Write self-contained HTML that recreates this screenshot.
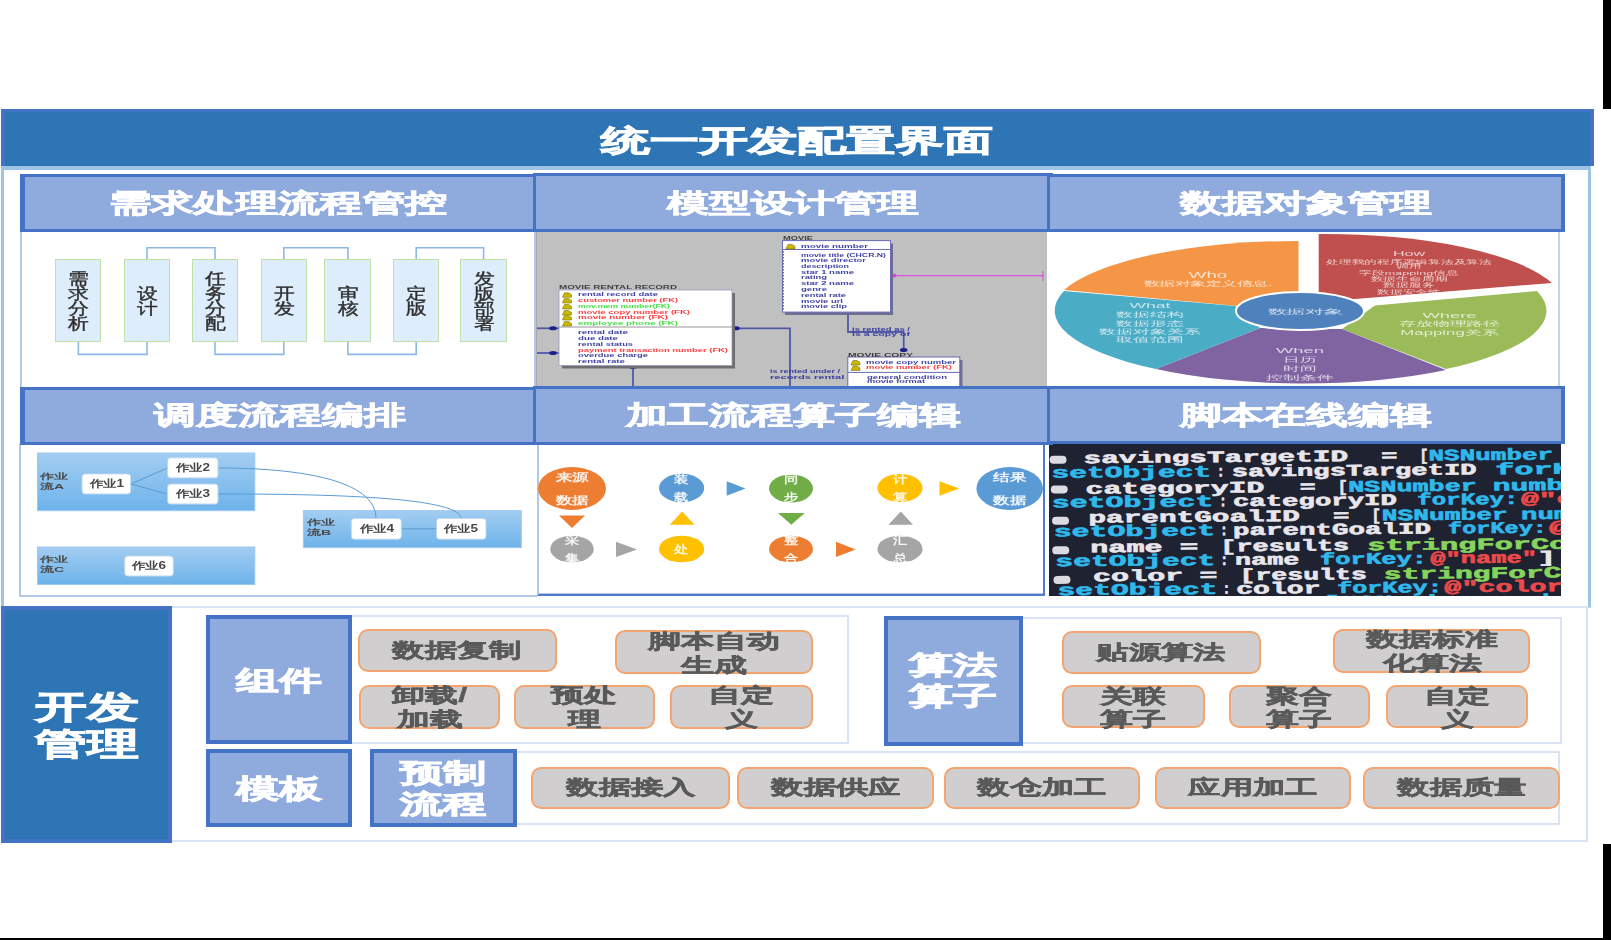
<!DOCTYPE html>
<html><head><meta charset="utf-8">
<style>
html,body{margin:0;padding:0;background:#fff;}
body{width:1611px;height:940px;position:relative;overflow:hidden;font-family:"Liberation Sans",sans-serif;}
.a{position:absolute;box-sizing:border-box;}
.t{z-index:11;position:absolute;display:flex;align-items:center;justify-content:center;white-space:nowrap;line-height:1;}
.t>span{display:inline-block;transform-origin:center center;}
.sh{z-index:10;position:absolute;box-sizing:border-box;background:#8FAADC;border:3px solid #4472C4;}
.btn{position:absolute;box-sizing:border-box;background:#D0CECE;border:2px solid #F4A46E;border-radius:10px;}
.vb{position:absolute;box-sizing:border-box;background:#DDEDFB;border:1.5px solid #C0E0A8;}
</style></head><body>

<!-- black bars -->
<div class="a" style="left:1603px;top:0;width:8px;height:109px;background:#000"></div>
<div class="a" style="left:1603px;top:844px;width:8px;height:96px;background:#000"></div>
<div class="a" style="left:0;top:938px;width:1611px;height:2px;background:#000"></div>

<!-- header -->
<div class="a" style="left:1px;top:109px;width:1593px;height:57px;background:#2E75B6;border:4px solid #4472C4;border-top-width:3px;border-bottom:none"></div>
<div class="t" style="left:1px;top:112px;width:1592px;height:57px;color:#fff;font-weight:bold;font-size:30px;-webkit-text-stroke:0.9px #fff"><span style="transform:scaleX(1.632)">统一开发配置界面</span></div>

<!-- outer frame top section -->
<div class="a" style="left:1px;top:166px;width:1590px;height:442px;border:3px solid #9DC3E6;border-top:4px solid #9DC3E6;border-bottom:2px solid #CBDAF0"></div>

<!-- row1 subheaders -->
<div class="sh" style="left:20px;top:174px;width:519px;height:58px;border-left-width:5px"></div>
<div class="sh" style="left:533px;top:173px;width:520px;height:59px"></div>
<div class="sh" style="left:1047px;top:174px;width:518px;height:58px;border-right-width:4px"></div>
<div class="t" style="left:18px;top:174px;width:519px;height:58px;color:#fff;font-weight:bold;font-size:26px;-webkit-text-stroke:0.6px #fff"><span style="transform:scaleX(1.627)">需求处理流程管控</span></div>
<div class="t" style="left:533px;top:173px;width:520px;height:59px;color:#fff;font-weight:bold;font-size:26px;-webkit-text-stroke:0.6px #fff"><span style="transform:scaleX(1.61)">模型设计管理</span></div>
<div class="t" style="left:1047px;top:174px;width:518px;height:58px;color:#fff;font-weight:bold;font-size:26px;-webkit-text-stroke:0.6px #fff"><span style="transform:scaleX(1.61)">数据对象管理</span></div>

<!-- row2 subheaders -->
<div class="sh" style="left:20px;top:387px;width:519px;height:58px;border-left-width:5px"></div>
<div class="sh" style="left:533px;top:386px;width:520px;height:59px"></div>
<div class="sh" style="left:1047px;top:386px;width:518px;height:58px;border-right-width:4px"></div>
<div class="t" style="left:20px;top:386px;width:519px;height:58px;color:#fff;font-weight:bold;font-size:26px;-webkit-text-stroke:0.6px #fff"><span style="transform:scaleX(1.61)">调度流程编排</span></div>
<div class="t" style="left:533px;top:385px;width:520px;height:59px;color:#fff;font-weight:bold;font-size:26px;-webkit-text-stroke:0.6px #fff"><span style="transform:scaleX(1.61)">加工流程算子编辑</span></div>
<div class="t" style="left:1047px;top:386px;width:518px;height:58px;color:#fff;font-weight:bold;font-size:26px;-webkit-text-stroke:0.6px #fff"><span style="transform:scaleX(1.61)">脚本在线编辑</span></div>

<!-- CONTENT -->
<div class="a" style="left:20px;top:232px;width:516px;height:155px;border-left:2px solid #B4C9EC;border-right:2px solid #B4C9EC"></div>
<div class="a" style="left:1558px;top:232px;width:2px;height:155px;background:#C5D3EE"></div>
<svg class="a" style="left:0;top:0" width="600" height="400" viewBox="0 0 600 400">
<path d="M147.0,259 V247.8 H215.0 V259" fill="none" stroke="#8DB8E8" stroke-width="1.6"/>
<path d="M283.8,259 V247.8 H347.9 V259" fill="none" stroke="#8DB8E8" stroke-width="1.6"/>
<path d="M416.2,259 V247.8 H483.6 V259" fill="none" stroke="#8DB8E8" stroke-width="1.6"/>
<path d="M78.4,342 V354.4 H147.0 V342" fill="none" stroke="#8DB8E8" stroke-width="1.6"/>
<path d="M215.0,342 V354.4 H283.8 V342" fill="none" stroke="#8DB8E8" stroke-width="1.6"/>
<path d="M347.9,342 V354.4 H416.2 V342" fill="none" stroke="#8DB8E8" stroke-width="1.6"/>
</svg>
<div class="vb" style="left:55px;top:259px;width:46px;height:83px"></div>
<div class="t" style="left:55px;top:259px;width:46px;height:83px;color:#2e2e2e;font-size:16px;-webkit-text-stroke:0.35px #2e2e2e;white-space:normal;text-align:center"><span style="transform:scale(1.3,1);line-height:15px">需<br>求<br>分<br>析</span></div>
<div class="vb" style="left:124px;top:259px;width:46px;height:83px"></div>
<div class="t" style="left:124px;top:259px;width:46px;height:83px;color:#2e2e2e;font-size:16px;-webkit-text-stroke:0.35px #2e2e2e;white-space:normal;text-align:center"><span style="transform:scale(1.3,1);line-height:15px">设<br>计</span></div>
<div class="vb" style="left:192px;top:259px;width:46px;height:83px"></div>
<div class="t" style="left:192px;top:259px;width:46px;height:83px;color:#2e2e2e;font-size:16px;-webkit-text-stroke:0.35px #2e2e2e;white-space:normal;text-align:center"><span style="transform:scale(1.3,1);line-height:15px">任<br>务<br>分<br>配</span></div>
<div class="vb" style="left:261px;top:259px;width:46px;height:83px"></div>
<div class="t" style="left:261px;top:259px;width:46px;height:83px;color:#2e2e2e;font-size:16px;-webkit-text-stroke:0.35px #2e2e2e;white-space:normal;text-align:center"><span style="transform:scale(1.3,1);line-height:15px">开<br>发</span></div>
<div class="vb" style="left:324px;top:259px;width:47px;height:83px"></div>
<div class="t" style="left:324px;top:259px;width:47px;height:83px;color:#2e2e2e;font-size:16px;-webkit-text-stroke:0.35px #2e2e2e;white-space:normal;text-align:center"><span style="transform:scale(1.3,1);line-height:15px">审<br>核</span></div>
<div class="vb" style="left:393px;top:259px;width:46px;height:83px"></div>
<div class="t" style="left:393px;top:259px;width:46px;height:83px;color:#2e2e2e;font-size:16px;-webkit-text-stroke:0.35px #2e2e2e;white-space:normal;text-align:center"><span style="transform:scale(1.3,1);line-height:15px">定<br>版</span></div>
<div class="vb" style="left:460px;top:259px;width:47px;height:83px"></div>
<div class="t" style="left:460px;top:259px;width:47px;height:83px;color:#2e2e2e;font-size:16px;-webkit-text-stroke:0.35px #2e2e2e;white-space:normal;text-align:center"><span style="transform:scale(1.3,1);line-height:15px">发<br>版<br>部<br>署</span></div>
<div class="a" style="left:536px;top:232px;width:511px;height:154px;background:#C0C0C0;border-left:1px solid #a8a8a8"></div>
<svg class="a" style="left:0;top:0" width="1100" height="400" viewBox="0 0 1100 400"><defs><filter id="bl" x="-5%" y="-50%" width="110%" height="200%"><feGaussianBlur stdDeviation="0.45"/></filter></defs>
<g fill="none" stroke="#5257A8" stroke-width="1.8">
<path d="M537,328.3 H559"/><path d="M537,353 H559"/><path d="M732,328.3 H790 V386"/><path d="M633,365 V386"/><path d="M848,312 V332 H903.7 V351"/>
</g>
<path d="M890,275.6 H1044" stroke="#E050E0" stroke-width="1.3"/><path d="M1043,271 V281" stroke="#E050E0" stroke-width="1"/>
<ellipse cx="893" cy="275.6" rx="3.5" ry="2" fill="#E040E0"/>
<ellipse cx="553" cy="328.3" rx="3.8" ry="2" fill="#1A1F8A"/>
<ellipse cx="553" cy="353" rx="3.8" ry="2" fill="#1A1F8A"/>
<ellipse cx="736" cy="328.3" rx="3.8" ry="2" fill="#1A1F8A"/>
<ellipse cx="633" cy="367" rx="3.8" ry="2" fill="#1A1F8A"/>
<ellipse cx="903.7" cy="350" rx="3.8" ry="2" fill="#1A1F8A"/>
<rect x="562" y="293" width="173" height="75.5" fill="#6e6e6e"/>
<rect x="559" y="290" width="173" height="75.5" fill="#fff" stroke="#9a9ac0" stroke-width="0.8"/>
<line x1="559" y1="327" x2="732" y2="327" stroke="#8a8a8a" stroke-width="0.9"/>
<text x="559" y="288.6" font-family="Liberation Sans, sans-serif" font-size="5.5" font-weight="bold" filter="url(#bl)" fill="#333" opacity="0.9" textLength="118" lengthAdjust="spacingAndGlyphs">MOVIE RENTAL RECORD</text>
<path d="M562.5,296.8 l2,-4 h4 l3,2 v2.5 h-9z" fill="#C9B800" stroke="#6b6000" stroke-width="0.5"/>
<text x="578" y="296.3" font-family="Liberation Sans, sans-serif" font-size="5.6" font-weight="bold" filter="url(#bl)" fill="#2A2F9A" opacity="0.9" textLength="80" lengthAdjust="spacingAndGlyphs">rental record date</text>
<path d="M562.5,302.5 l2,-4 h4 l3,2 v2.5 h-9z" fill="#C9B800" stroke="#6b6000" stroke-width="0.5"/>
<text x="578" y="302.0" font-family="Liberation Sans, sans-serif" font-size="5.6" font-weight="bold" filter="url(#bl)" fill="#FF2A2A" opacity="0.9" textLength="100" lengthAdjust="spacingAndGlyphs">customer number (FK)</text>
<path d="M562.5,308.5 l2,-4 h4 l3,2 v2.5 h-9z" fill="#C9B800" stroke="#6b6000" stroke-width="0.5"/>
<text x="578" y="308.0" font-family="Liberation Sans, sans-serif" font-size="5.6" font-weight="bold" filter="url(#bl)" fill="#30DD30" opacity="0.9" textLength="92" lengthAdjust="spacingAndGlyphs">mov.mem number(FK)</text>
<path d="M562.5,314.5 l2,-4 h4 l3,2 v2.5 h-9z" fill="#C9B800" stroke="#6b6000" stroke-width="0.5"/>
<text x="578" y="314.0" font-family="Liberation Sans, sans-serif" font-size="5.6" font-weight="bold" filter="url(#bl)" fill="#FF2A2A" opacity="0.9" textLength="112" lengthAdjust="spacingAndGlyphs">movie copy number (FK)</text>
<path d="M562.5,319.5 l2,-4 h4 l3,2 v2.5 h-9z" fill="#C9B800" stroke="#6b6000" stroke-width="0.5"/>
<text x="578" y="319.0" font-family="Liberation Sans, sans-serif" font-size="5.6" font-weight="bold" filter="url(#bl)" fill="#FF2A2A" opacity="0.9" textLength="90" lengthAdjust="spacingAndGlyphs">movie number (FK)</text>
<path d="M562.5,325.5 l2,-4 h4 l3,2 v2.5 h-9z" fill="#C9B800" stroke="#6b6000" stroke-width="0.5"/>
<text x="578" y="325.0" font-family="Liberation Sans, sans-serif" font-size="5.6" font-weight="bold" filter="url(#bl)" fill="#30DD30" opacity="0.9" textLength="100" lengthAdjust="spacingAndGlyphs">employee phone (FK)</text>
<text x="578" y="333.6" font-family="Liberation Sans, sans-serif" font-size="5.6" font-weight="bold" filter="url(#bl)" fill="#2A2F9A" opacity="0.9" textLength="50" lengthAdjust="spacingAndGlyphs">rental date</text>
<text x="578" y="339.7" font-family="Liberation Sans, sans-serif" font-size="5.6" font-weight="bold" filter="url(#bl)" fill="#2A2F9A" opacity="0.9" textLength="40" lengthAdjust="spacingAndGlyphs">due date</text>
<text x="578" y="345.7" font-family="Liberation Sans, sans-serif" font-size="5.6" font-weight="bold" filter="url(#bl)" fill="#2A2F9A" opacity="0.9" textLength="55" lengthAdjust="spacingAndGlyphs">rental status</text>
<text x="578" y="351.6" font-family="Liberation Sans, sans-serif" font-size="5.6" font-weight="bold" filter="url(#bl)" fill="#FF2A2A" opacity="0.9" textLength="150" lengthAdjust="spacingAndGlyphs">payment transaction number (FK)</text>
<text x="578" y="356.9" font-family="Liberation Sans, sans-serif" font-size="5.6" font-weight="bold" filter="url(#bl)" fill="#2A2F9A" opacity="0.9" textLength="70" lengthAdjust="spacingAndGlyphs">overdue charge</text>
<text x="578" y="362.6" font-family="Liberation Sans, sans-serif" font-size="5.6" font-weight="bold" filter="url(#bl)" fill="#2A2F9A" opacity="0.9" textLength="47" lengthAdjust="spacingAndGlyphs">rental rate</text>
<rect x="785" y="243.5" width="108" height="71.5" fill="#6e6e8e"/>
<rect x="782.5" y="240.6" width="108" height="71.5" fill="#fff" stroke="#6a6ab8" stroke-width="1"/>
<line x1="782.5" y1="249.5" x2="890.5" y2="249.5" stroke="#6a6ab8" stroke-width="1"/>
<text x="783" y="239.7" font-family="Liberation Sans, sans-serif" font-size="5.2" font-weight="bold" filter="url(#bl)" fill="#333" opacity="0.9" textLength="30" lengthAdjust="spacingAndGlyphs">MOVIE</text>
<path d="M786,248.4 l2,-4 h4 l3,2 v2.5 h-9z" fill="#C9B800" stroke="#6b6000" stroke-width="0.5"/>
<text x="801" y="247.9" font-family="Liberation Sans, sans-serif" font-size="5.6" font-weight="bold" filter="url(#bl)" fill="#2A2F9A" opacity="0.9" textLength="67" lengthAdjust="spacingAndGlyphs">movie number</text>
<text x="801" y="256.5" font-family="Liberation Sans, sans-serif" font-size="5.6" font-weight="bold" filter="url(#bl)" fill="#2A2F9A" opacity="0.9" textLength="85" lengthAdjust="spacingAndGlyphs">movie title (CHCR.N)</text>
<text x="801" y="262.0" font-family="Liberation Sans, sans-serif" font-size="5.6" font-weight="bold" filter="url(#bl)" fill="#2A2F9A" opacity="0.9" textLength="65" lengthAdjust="spacingAndGlyphs">movie director</text>
<text x="801" y="268.2" font-family="Liberation Sans, sans-serif" font-size="5.6" font-weight="bold" filter="url(#bl)" fill="#2A2F9A" opacity="0.9" textLength="48" lengthAdjust="spacingAndGlyphs">description</text>
<text x="801" y="274.0" font-family="Liberation Sans, sans-serif" font-size="5.6" font-weight="bold" filter="url(#bl)" fill="#2A2F9A" opacity="0.9" textLength="53" lengthAdjust="spacingAndGlyphs">star 1 name</text>
<text x="801" y="279.4" font-family="Liberation Sans, sans-serif" font-size="5.6" font-weight="bold" filter="url(#bl)" fill="#2A2F9A" opacity="0.9" textLength="26" lengthAdjust="spacingAndGlyphs">rating</text>
<text x="801" y="285.3" font-family="Liberation Sans, sans-serif" font-size="5.6" font-weight="bold" filter="url(#bl)" fill="#2A2F9A" opacity="0.9" textLength="53" lengthAdjust="spacingAndGlyphs">star 2 name</text>
<text x="801" y="291.2" font-family="Liberation Sans, sans-serif" font-size="5.6" font-weight="bold" filter="url(#bl)" fill="#2A2F9A" opacity="0.9" textLength="26" lengthAdjust="spacingAndGlyphs">genre</text>
<text x="801" y="297.0" font-family="Liberation Sans, sans-serif" font-size="5.6" font-weight="bold" filter="url(#bl)" fill="#2A2F9A" opacity="0.9" textLength="45" lengthAdjust="spacingAndGlyphs">rental rate</text>
<text x="801" y="302.8" font-family="Liberation Sans, sans-serif" font-size="5.6" font-weight="bold" filter="url(#bl)" fill="#2A2F9A" opacity="0.9" textLength="42" lengthAdjust="spacingAndGlyphs">movie url</text>
<text x="801" y="308.3" font-family="Liberation Sans, sans-serif" font-size="5.6" font-weight="bold" filter="url(#bl)" fill="#2A2F9A" opacity="0.9" textLength="46" lengthAdjust="spacingAndGlyphs">movie clip</text>
<line x1="783.5" y1="251" x2="783.5" y2="311" stroke="#6a6ab8" stroke-width="1" stroke-dasharray="1.5,1.5"/>
<text x="852" y="330.6" font-family="Liberation Sans, sans-serif" font-size="5.2" font-weight="bold" filter="url(#bl)" fill="#2A2F9A" opacity="0.9" textLength="58" lengthAdjust="spacingAndGlyphs">is rented as /</text>
<text x="852" y="335.9" font-family="Liberation Sans, sans-serif" font-size="5.2" font-weight="bold" filter="url(#bl)" fill="#2A2F9A" opacity="0.9" textLength="58" lengthAdjust="spacingAndGlyphs">is a copy of</text>
<text x="770" y="372.9" font-family="Liberation Sans, sans-serif" font-size="5.2" font-weight="bold" filter="url(#bl)" fill="#2A2F9A" opacity="0.9" textLength="70" lengthAdjust="spacingAndGlyphs">is rented under /</text>
<text x="770" y="378.5" font-family="Liberation Sans, sans-serif" font-size="5.2" font-weight="bold" filter="url(#bl)" fill="#2A2F9A" opacity="0.9" textLength="88" lengthAdjust="spacingAndGlyphs">records rental of</text>
<rect x="850.5" y="360" width="112" height="30" fill="#6e6e8e"/>
<rect x="847.8" y="357" width="112" height="30" fill="#fff" stroke="#6a6ab8" stroke-width="1"/>
<line x1="847.8" y1="372.4" x2="959.8" y2="372.4" stroke="#6a6ab8" stroke-width="1"/>
<text x="848" y="356.5" font-family="Liberation Sans, sans-serif" font-size="5.2" font-weight="bold" filter="url(#bl)" fill="#333" opacity="0.9" textLength="65" lengthAdjust="spacingAndGlyphs">MOVIE COPY</text>
<path d="M851,364.5 l2,-4 h4 l3,2 v2.5 h-9z" fill="#C9B800" stroke="#6b6000" stroke-width="0.5"/>
<path d="M851,369.9 l2,-4 h4 l3,2 v2.5 h-9z" fill="#C9B800" stroke="#6b6000" stroke-width="0.5"/>
<text x="866" y="364.0" font-family="Liberation Sans, sans-serif" font-size="5.6" font-weight="bold" filter="url(#bl)" fill="#2A2F9A" opacity="0.9" textLength="90" lengthAdjust="spacingAndGlyphs">movie copy number</text>
<text x="866" y="369.4" font-family="Liberation Sans, sans-serif" font-size="5.6" font-weight="bold" filter="url(#bl)" fill="#FF2A2A" opacity="0.9" textLength="86" lengthAdjust="spacingAndGlyphs">movie number (FK)</text>
<text x="867" y="378.6" font-family="Liberation Sans, sans-serif" font-size="5.6" font-weight="bold" filter="url(#bl)" fill="#2A2F9A" opacity="0.9" textLength="80" lengthAdjust="spacingAndGlyphs">general condition</text>
<text x="867" y="383.4" font-family="Liberation Sans, sans-serif" font-size="5.6" font-weight="bold" filter="url(#bl)" fill="#2A2F9A" opacity="0.9" textLength="58" lengthAdjust="spacingAndGlyphs">movie format</text>
</svg>
<svg class="a" style="left:0;top:0" width="1611" height="400" viewBox="0 0 1611 400">
<path d="M1298.5,241 A245,72 0 0,0 1064,290 L1237,306 L1298.5,300 Z" fill="#F59646"/>
<path d="M1318.7,234 A240,72 0 0,1 1552,283 L1318.7,302 Z" fill="#C0504D"/>
<path d="M1537,291 A245,72 0 0,1 1446,369 L1342,329 L1375,305.6 Z" fill="#9BBB59"/>
<path d="M1446,370 A245,72 0 0,1 1156,369 L1260,328 L1342,329 Z" fill="#8064A2"/>
<path d="M1156,369 A245,72 0 0,1 1064,291 L1235,306 L1260,328 Z" fill="#4BACC6"/>
<ellipse cx="1300" cy="311" rx="64" ry="19" fill="#4F81BD" stroke="#fff" stroke-width="2"/>
<text x="0" y="0" font-family="Liberation Sans, sans-serif" fill="#fff" text-anchor="middle" font-size="8.5" opacity="0.72" transform="translate(1208,278.0) scale(2.2,1)">Who</text>
<text x="0" y="0" font-family="Liberation Sans, sans-serif" fill="#fff" text-anchor="middle" font-size="7" opacity="0.72" transform="translate(1208,285.6) scale(2.29,1)">数据对象定义信息.</text>
<text x="0" y="0" font-family="Liberation Sans, sans-serif" fill="#fff" text-anchor="middle" font-size="7" opacity="0.72" transform="translate(1409,256.2) scale(2.3,1)">How</text>
<text x="0" y="0" font-family="Liberation Sans, sans-serif" fill="#fff" text-anchor="middle" font-size="6" opacity="0.72" transform="translate(1409,263.6) scale(2.1,1)">处理我的程序逻辑算法及算法</text>
<text x="0" y="0" font-family="Liberation Sans, sans-serif" fill="#fff" text-anchor="middle" font-size="6" opacity="0.72" transform="translate(1409,268.3) scale(2.1,1)">调用</text>
<text x="0" y="0" font-family="Liberation Sans, sans-serif" fill="#fff" text-anchor="middle" font-size="6" opacity="0.72" transform="translate(1409,274.5) scale(2.1,1)">字段mapping信息</text>
<text x="0" y="0" font-family="Liberation Sans, sans-serif" fill="#fff" text-anchor="middle" font-size="6" opacity="0.72" transform="translate(1409,280.6) scale(2.1,1)">数据生命周期</text>
<text x="0" y="0" font-family="Liberation Sans, sans-serif" fill="#fff" text-anchor="middle" font-size="6" opacity="0.72" transform="translate(1409,287.3) scale(2.1,1)">数据服务</text>
<text x="0" y="0" font-family="Liberation Sans, sans-serif" fill="#fff" text-anchor="middle" font-size="6" opacity="0.72" transform="translate(1409,293.5) scale(2.1,1)">数据安全性</text>
<text x="0" y="0" font-family="Liberation Sans, sans-serif" fill="#fff" text-anchor="middle" font-size="7" opacity="0.72" transform="translate(1150,308.2) scale(2.51,1)">What</text>
<text x="0" y="0" font-family="Liberation Sans, sans-serif" fill="#fff" text-anchor="middle" font-size="7" opacity="0.72" transform="translate(1150,317.2) scale(2.40,1)">数据结构</text>
<text x="0" y="0" font-family="Liberation Sans, sans-serif" fill="#fff" text-anchor="middle" font-size="7" opacity="0.72" transform="translate(1150,325.6) scale(2.40,1)">数据形态</text>
<text x="0" y="0" font-family="Liberation Sans, sans-serif" fill="#fff" text-anchor="middle" font-size="7" opacity="0.72" transform="translate(1150,333.7) scale(2.40,1)">数据对象关系</text>
<text x="0" y="0" font-family="Liberation Sans, sans-serif" fill="#fff" text-anchor="middle" font-size="7" opacity="0.72" transform="translate(1150,342.1) scale(2.40,1)">取值范围</text>
<text x="0" y="0" font-family="Liberation Sans, sans-serif" fill="#fff" text-anchor="middle" font-size="7" opacity="0.72" transform="translate(1305,314.3) scale(2.74,1)">数据对象</text>
<text x="0" y="0" font-family="Liberation Sans, sans-serif" fill="#fff" text-anchor="middle" font-size="7" opacity="0.72" transform="translate(1449.5,317.6) scale(2.63,1)">Where</text>
<text x="0" y="0" font-family="Liberation Sans, sans-serif" fill="#fff" text-anchor="middle" font-size="7" opacity="0.72" transform="translate(1449.5,326.4) scale(2.40,1)">存放物理路径</text>
<text x="0" y="0" font-family="Liberation Sans, sans-serif" fill="#fff" text-anchor="middle" font-size="7" opacity="0.72" transform="translate(1449.5,335.1) scale(2.40,1)">Mapping关系</text>
<text x="0" y="0" font-family="Liberation Sans, sans-serif" fill="#fff" text-anchor="middle" font-size="7" opacity="0.72" transform="translate(1300,353.4) scale(2.63,1)">When</text>
<text x="0" y="0" font-family="Liberation Sans, sans-serif" fill="#fff" text-anchor="middle" font-size="7" opacity="0.72" transform="translate(1300,362.1) scale(2.40,1)">日历</text>
<text x="0" y="0" font-family="Liberation Sans, sans-serif" fill="#fff" text-anchor="middle" font-size="7" opacity="0.72" transform="translate(1300,370.6) scale(2.40,1)">时间</text>
<text x="0" y="0" font-family="Liberation Sans, sans-serif" fill="#fff" text-anchor="middle" font-size="7" opacity="0.72" transform="translate(1300,379.5) scale(2.40,1)">控制条件</text>
</svg>
<div class="a" style="left:19px;top:444px;width:518px;height:153px;border-left:2px solid #B4C7E7;border-bottom:2px solid #B4C7E7"></div>
<svg class="a" style="left:0;top:0" width="600" height="620" viewBox="0 0 600 620">
<defs><linearGradient id="gb" x1="0" y1="0" x2="0" y2="1"><stop offset="0" stop-color="#A3CDF2"/><stop offset="1" stop-color="#6DB3EA"/></linearGradient></defs>
<rect x="37.5" y="453" width="217.3" height="57.7" fill="url(#gb)" stroke="#9DC8F0" stroke-width="1"/>
<rect x="303.4" y="510.7" width="217.9" height="36.9" fill="url(#gb)" stroke="#9DC8F0" stroke-width="1"/>
<rect x="37.5" y="547" width="217.3" height="37.5" fill="url(#gb)" stroke="#9DC8F0" stroke-width="1"/>
<g fill="none" stroke="#5B9BD5" stroke-width="1">
<path d="M130.7,484 L167.6,468"/><path d="M130.7,484 L167.6,494"/><path d="M401.3,528.8 H436.5"/>
<path d="M218,468 C300,468 376,480 376,518.5"/><path d="M218,494 C300,494 461,495 461,518.5"/>
</g>
<rect x="82" y="473.9" width="48.7" height="20.1" rx="3" fill="#fff" stroke="#BDD7EE" stroke-width="1"/>
<rect x="167.6" y="457.8" width="50.4" height="20.1" rx="3" fill="#fff" stroke="#BDD7EE" stroke-width="1"/>
<rect x="167.6" y="484" width="50.4" height="20.0" rx="3" fill="#fff" stroke="#BDD7EE" stroke-width="1"/>
<rect x="351.3" y="518.5" width="50.0" height="20.7" rx="3" fill="#fff" stroke="#BDD7EE" stroke-width="1"/>
<rect x="436.5" y="518.5" width="49.5" height="20.7" rx="3" fill="#fff" stroke="#BDD7EE" stroke-width="1"/>
<rect x="124.7" y="556" width="48.6" height="20.0" rx="3" fill="#fff" stroke="#BDD7EE" stroke-width="1"/>
</svg>
<div class="t" style="z-index:1;left:82px;top:473.9px;width:48.7px;height:20.1px;color:#474747;font-size:10px;font-weight:bold"><span style="transform:scaleX(1.35)">作业1</span></div>
<div class="t" style="z-index:1;left:167.6px;top:457.8px;width:50.4px;height:20.1px;color:#474747;font-size:10px;font-weight:bold"><span style="transform:scaleX(1.35)">作业2</span></div>
<div class="t" style="z-index:1;left:167.6px;top:484px;width:50.4px;height:20.0px;color:#474747;font-size:10px;font-weight:bold"><span style="transform:scaleX(1.35)">作业3</span></div>
<div class="t" style="z-index:1;left:351.3px;top:518.5px;width:50.0px;height:20.7px;color:#474747;font-size:10px;font-weight:bold"><span style="transform:scaleX(1.35)">作业4</span></div>
<div class="t" style="z-index:1;left:436.5px;top:518.5px;width:49.5px;height:20.7px;color:#474747;font-size:10px;font-weight:bold"><span style="transform:scaleX(1.35)">作业5</span></div>
<div class="t" style="z-index:1;left:124.7px;top:556px;width:48.6px;height:20.0px;color:#474747;font-size:10px;font-weight:bold"><span style="transform:scaleX(1.35)">作业6</span></div>
<div class="a" style="left:40px;top:472px;color:#4a4a4a;font-size:8px;line-height:10px;font-weight:bold;transform:scaleX(1.75);transform-origin:left top">作业<br>流A</div>
<div class="a" style="left:306.7px;top:518px;color:#4a4a4a;font-size:8px;line-height:10px;font-weight:bold;transform:scaleX(1.75);transform-origin:left top">作业<br>流B</div>
<div class="a" style="left:40px;top:555px;color:#4a4a4a;font-size:8px;line-height:10px;font-weight:bold;transform:scaleX(1.75);transform-origin:left top">作业<br>流C</div>
<div class="a" style="left:537px;top:444px;width:508px;height:152px;border:2px solid #4F7AD0;border-left-color:#B4C7E7;border-top:none;box-shadow:inset 0 -1px 0 #B4C7E7"></div>
<svg class="a" style="left:0;top:0" width="1100" height="620" viewBox="0 0 1100 620">
<ellipse cx="572" cy="488.5" rx="34" ry="21.5" fill="#ED7D31"/>
<ellipse cx="681.6" cy="488" rx="22.6" ry="14.3" fill="#5B9BD5"/>
<ellipse cx="791" cy="488.5" rx="22" ry="14" fill="#70AD47"/>
<ellipse cx="900" cy="488" rx="22.6" ry="14" fill="#FFC000"/>
<ellipse cx="1009.7" cy="488.5" rx="33.3" ry="21.5" fill="#5B9BD5"/>
<ellipse cx="572" cy="549" rx="21.8" ry="13.3" fill="#A5A5A5"/>
<ellipse cx="681.6" cy="549" rx="22.6" ry="13.3" fill="#FFC000"/>
<ellipse cx="791" cy="549" rx="22" ry="13.3" fill="#ED7D31"/>
<ellipse cx="900" cy="549" rx="22.6" ry="13.3" fill="#A5A5A5"/>
<polygon points="559,515.5 585,515.5 572.0,528" fill="#ED7D31"/>
<polygon points="669.8,524.7 694.5,524.7 682.15,511.6" fill="#FFC000"/>
<polygon points="778,513 804.7,513 791.35,524.7" fill="#70AD47"/>
<polygon points="888.5,524.7 913,524.7 900.75,511.6" fill="#A5A5A5"/>
<polygon points="726.7,481.3 745.5,488.55 726.7,495.8" fill="#5B9BD5"/>
<polygon points="939.5,481.3 959.3,488.55 939.5,495.8" fill="#FFC000"/>
<polygon points="616,541.8 637,549.4 616,557" fill="#A5A5A5"/>
<polygon points="836,541.8 855.7,549.4 836,557" fill="#ED7D31"/>
<text x="0" y="0" font-family="Liberation Sans, sans-serif" fill="#fff" text-anchor="middle" font-weight="bold" font-size="11" opacity="0.9" transform="translate(572,481.2) scale(1.5,1)">来源</text>
<text x="0" y="0" font-family="Liberation Sans, sans-serif" fill="#fff" text-anchor="middle" font-weight="bold" font-size="11" opacity="0.9" transform="translate(572,503.7) scale(1.5,1)">数据</text>
<text x="0" y="0" font-family="Liberation Sans, sans-serif" fill="#fff" text-anchor="middle" font-weight="bold" font-size="11" opacity="0.9" transform="translate(1009.7,481.2) scale(1.5,1)">结果</text>
<text x="0" y="0" font-family="Liberation Sans, sans-serif" fill="#fff" text-anchor="middle" font-weight="bold" font-size="11" opacity="0.9" transform="translate(1009.7,503.7) scale(1.5,1)">数据</text>
<text x="0" y="0" font-family="Liberation Sans, sans-serif" fill="#fff" text-anchor="middle" font-weight="bold" font-size="11" opacity="0.9" transform="translate(681.6,483.2) scale(1.3,1)">装</text>
<text x="0" y="0" font-family="Liberation Sans, sans-serif" fill="#fff" text-anchor="middle" font-weight="bold" font-size="11" opacity="0.9" transform="translate(681.6,501.2) scale(1.3,1)">载</text>
<text x="0" y="0" font-family="Liberation Sans, sans-serif" fill="#fff" text-anchor="middle" font-weight="bold" font-size="11" opacity="0.9" transform="translate(791,483.2) scale(1.3,1)">同</text>
<text x="0" y="0" font-family="Liberation Sans, sans-serif" fill="#fff" text-anchor="middle" font-weight="bold" font-size="11" opacity="0.9" transform="translate(791,501.2) scale(1.3,1)">步</text>
<text x="0" y="0" font-family="Liberation Sans, sans-serif" fill="#fff" text-anchor="middle" font-weight="bold" font-size="11" opacity="0.9" transform="translate(900,483.2) scale(1.3,1)">计</text>
<text x="0" y="0" font-family="Liberation Sans, sans-serif" fill="#fff" text-anchor="middle" font-weight="bold" font-size="11" opacity="0.9" transform="translate(900,501.2) scale(1.3,1)">算</text>
<text x="0" y="0" font-family="Liberation Sans, sans-serif" fill="#fff" text-anchor="middle" font-weight="bold" font-size="11" opacity="0.9" transform="translate(572,544.2) scale(1.3,1)">采</text>
<text x="0" y="0" font-family="Liberation Sans, sans-serif" fill="#fff" text-anchor="middle" font-weight="bold" font-size="11" opacity="0.9" transform="translate(572,562.2) scale(1.3,1)">集</text>
<text x="0" y="0" font-family="Liberation Sans, sans-serif" fill="#fff" text-anchor="middle" font-weight="bold" font-size="11" opacity="0.9" transform="translate(791,544.2) scale(1.3,1)">整</text>
<text x="0" y="0" font-family="Liberation Sans, sans-serif" fill="#fff" text-anchor="middle" font-weight="bold" font-size="11" opacity="0.9" transform="translate(791,562.2) scale(1.3,1)">合</text>
<text x="0" y="0" font-family="Liberation Sans, sans-serif" fill="#fff" text-anchor="middle" font-weight="bold" font-size="11" opacity="0.9" transform="translate(900,544.2) scale(1.3,1)">汇</text>
<text x="0" y="0" font-family="Liberation Sans, sans-serif" fill="#fff" text-anchor="middle" font-weight="bold" font-size="11" opacity="0.9" transform="translate(900,562.2) scale(1.3,1)">总</text>
<text x="0" y="0" font-family="Liberation Sans, sans-serif" fill="#fff" text-anchor="middle" font-weight="bold" font-size="11" opacity="0.9" transform="translate(681.6,553.2) scale(1.3,1)">处</text>
</svg>
<svg class="a" style="left:1049px;top:444px" width="512" height="152" viewBox="1049 444 512 152">
<rect x="1049" y="444" width="512" height="152" fill="#1F2231"/>
<g transform="rotate(-0.45 1050 520)" font-family="Liberation Mono, monospace" font-weight="bold" font-size="16">
<rect x="1050" y="455.8" width="17" height="8" rx="4" fill="#E8E6EC" opacity="0.95"/>
<text x="1084" y="463.4" fill="#E8E6EC" stroke="#E8E6EC" stroke-width="0.6" textLength="264.5" lengthAdjust="spacingAndGlyphs">savingsTargetID</text>
<text x="1381.7" y="463.4" fill="#E8E6EC" stroke="#E8E6EC" stroke-width="0.6" textLength="16.2" lengthAdjust="spacingAndGlyphs">=</text>
<text x="1420" y="463.4" fill="#E8E6EC" stroke="#E8E6EC" stroke-width="0.6" textLength="9.0" lengthAdjust="spacingAndGlyphs">[</text>
<text x="1429" y="463.4" fill="#2FB8EC" stroke="#2FB8EC" stroke-width="0.6" textLength="124.6" lengthAdjust="spacingAndGlyphs">NSNumber</text>
<text x="1051.8" y="477.8" fill="#2FB8EC" stroke="#2FB8EC" stroke-width="0.6" textLength="159.9" lengthAdjust="spacingAndGlyphs">setObject</text>
<text x="1217" y="477.8" fill="#E8E6EC" stroke="#E8E6EC" stroke-width="0.6" textLength="8.0" lengthAdjust="spacingAndGlyphs">:</text>
<text x="1232" y="477.8" fill="#E8E6EC" stroke="#E8E6EC" stroke-width="0.6" textLength="245.0" lengthAdjust="spacingAndGlyphs">savingsTargetID</text>
<text x="1495.7" y="477.8" fill="#2FB8EC" stroke="#2FB8EC" stroke-width="0.6" textLength="114.3" lengthAdjust="spacingAndGlyphs">forKey</text>
<rect x="1051" y="485.5" width="17" height="8" rx="4" fill="#E8E6EC" opacity="0.95"/>
<text x="1085.8" y="494.0" fill="#E8E6EC" stroke="#E8E6EC" stroke-width="0.6" textLength="178.7" lengthAdjust="spacingAndGlyphs">categoryID</text>
<text x="1300" y="494.0" fill="#E8E6EC" stroke="#E8E6EC" stroke-width="0.6" textLength="16.0" lengthAdjust="spacingAndGlyphs">=</text>
<text x="1338" y="494.0" fill="#E8E6EC" stroke="#E8E6EC" stroke-width="0.6" textLength="10.0" lengthAdjust="spacingAndGlyphs">[</text>
<text x="1348.5" y="494.0" fill="#2FB8EC" stroke="#2FB8EC" stroke-width="0.6" textLength="128.5" lengthAdjust="spacingAndGlyphs">NSNumber</text>
<text x="1493" y="494.0" fill="#2FB8EC" stroke="#2FB8EC" stroke-width="0.6" textLength="107.0" lengthAdjust="spacingAndGlyphs">number</text>
<text x="1051.8" y="507.5" fill="#2FB8EC" stroke="#2FB8EC" stroke-width="0.6" textLength="161.7" lengthAdjust="spacingAndGlyphs">setObject</text>
<text x="1219" y="507.5" fill="#E8E6EC" stroke="#E8E6EC" stroke-width="0.6" textLength="8.0" lengthAdjust="spacingAndGlyphs">:</text>
<text x="1233" y="507.5" fill="#E8E6EC" stroke="#E8E6EC" stroke-width="0.6" textLength="164.0" lengthAdjust="spacingAndGlyphs">categoryID</text>
<text x="1417.4" y="507.5" fill="#2FB8EC" stroke="#2FB8EC" stroke-width="0.6" textLength="101.3" lengthAdjust="spacingAndGlyphs">forKey:</text>
<text x="1521" y="507.5" fill="#EC4A4A" stroke="#EC4A4A" stroke-width="0.6" textLength="89.0" lengthAdjust="spacingAndGlyphs">@"cat</text>
<rect x="1052" y="516.8" width="17" height="8" rx="4" fill="#E8E6EC" opacity="0.95"/>
<text x="1088.4" y="522.9" fill="#E8E6EC" stroke="#E8E6EC" stroke-width="0.6" textLength="211.6" lengthAdjust="spacingAndGlyphs">parentGoalID</text>
<text x="1333" y="522.9" fill="#E8E6EC" stroke="#E8E6EC" stroke-width="0.6" textLength="16.4" lengthAdjust="spacingAndGlyphs">=</text>
<text x="1371.5" y="522.9" fill="#E8E6EC" stroke="#E8E6EC" stroke-width="0.6" textLength="9.5" lengthAdjust="spacingAndGlyphs">[</text>
<text x="1381.7" y="522.9" fill="#2FB8EC" stroke="#2FB8EC" stroke-width="0.6" textLength="126.0" lengthAdjust="spacingAndGlyphs">NSNumber</text>
<text x="1521" y="522.9" fill="#2FB8EC" stroke="#2FB8EC" stroke-width="0.6" textLength="99.0" lengthAdjust="spacingAndGlyphs">number</text>
<text x="1053.5" y="536.5" fill="#2FB8EC" stroke="#2FB8EC" stroke-width="0.6" textLength="161.5" lengthAdjust="spacingAndGlyphs">setObject</text>
<text x="1220" y="536.5" fill="#E8E6EC" stroke="#E8E6EC" stroke-width="0.6" textLength="8.0" lengthAdjust="spacingAndGlyphs">:</text>
<text x="1233" y="536.5" fill="#E8E6EC" stroke="#E8E6EC" stroke-width="0.6" textLength="198.0" lengthAdjust="spacingAndGlyphs">parentGoalID</text>
<text x="1448" y="536.5" fill="#2FB8EC" stroke="#2FB8EC" stroke-width="0.6" textLength="98.8" lengthAdjust="spacingAndGlyphs">forKey:</text>
<text x="1549" y="536.5" fill="#EC4A4A" stroke="#EC4A4A" stroke-width="0.6" textLength="41.0" lengthAdjust="spacingAndGlyphs">@"</text>
<rect x="1052" y="546.4" width="17" height="8" rx="4" fill="#E8E6EC" opacity="0.95"/>
<text x="1090" y="552.7" fill="#E8E6EC" stroke="#E8E6EC" stroke-width="0.6" textLength="72.4" lengthAdjust="spacingAndGlyphs">name</text>
<text x="1179.4" y="552.7" fill="#E8E6EC" stroke="#E8E6EC" stroke-width="0.6" textLength="18.6" lengthAdjust="spacingAndGlyphs">=</text>
<text x="1220" y="552.7" fill="#E8E6EC" stroke="#E8E6EC" stroke-width="0.6" textLength="129.0" lengthAdjust="spacingAndGlyphs">[results</text>
<text x="1367" y="552.7" fill="#86D45C" stroke="#86D45C" stroke-width="0.6" textLength="273.0" lengthAdjust="spacingAndGlyphs">stringForColumn</text>
<text x="1055" y="566.3" fill="#2FB8EC" stroke="#2FB8EC" stroke-width="0.6" textLength="160.0" lengthAdjust="spacingAndGlyphs">setObject</text>
<text x="1220" y="566.3" fill="#E8E6EC" stroke="#E8E6EC" stroke-width="0.6" textLength="8.0" lengthAdjust="spacingAndGlyphs">:</text>
<text x="1234.7" y="566.3" fill="#E8E6EC" stroke="#E8E6EC" stroke-width="0.6" textLength="64.3" lengthAdjust="spacingAndGlyphs">name</text>
<text x="1319.6" y="566.3" fill="#2FB8EC" stroke="#2FB8EC" stroke-width="0.6" textLength="107.2" lengthAdjust="spacingAndGlyphs">forKey:</text>
<text x="1430" y="566.3" fill="#EC4A4A" stroke="#EC4A4A" stroke-width="0.6" textLength="106.6" lengthAdjust="spacingAndGlyphs">@"name"</text>
<text x="1537" y="566.3" fill="#E8E6EC" stroke="#E8E6EC" stroke-width="0.6" textLength="38.0" lengthAdjust="spacingAndGlyphs">];</text>
<rect x="1053" y="576.0" width="17" height="8" rx="4" fill="#E8E6EC" opacity="0.95"/>
<text x="1092.6" y="581.5" fill="#E8E6EC" stroke="#E8E6EC" stroke-width="0.6" textLength="90.2" lengthAdjust="spacingAndGlyphs">color</text>
<text x="1199" y="581.5" fill="#E8E6EC" stroke="#E8E6EC" stroke-width="0.6" textLength="17.9" lengthAdjust="spacingAndGlyphs">=</text>
<text x="1239" y="581.5" fill="#E8E6EC" stroke="#E8E6EC" stroke-width="0.6" textLength="127.4" lengthAdjust="spacingAndGlyphs">[results</text>
<text x="1383.4" y="581.5" fill="#86D45C" stroke="#86D45C" stroke-width="0.6" textLength="266.6" lengthAdjust="spacingAndGlyphs">stringForColumn</text>
<text x="1057" y="595.2" fill="#2FB8EC" stroke="#2FB8EC" stroke-width="0.6" textLength="160.0" lengthAdjust="spacingAndGlyphs">setObject</text>
<text x="1222" y="595.2" fill="#E8E6EC" stroke="#E8E6EC" stroke-width="0.6" textLength="8.0" lengthAdjust="spacingAndGlyphs">:</text>
<text x="1235.6" y="595.2" fill="#E8E6EC" stroke="#E8E6EC" stroke-width="0.6" textLength="84.4" lengthAdjust="spacingAndGlyphs">color</text>
<text x="1336.6" y="595.2" fill="#2FB8EC" stroke="#2FB8EC" stroke-width="0.6" textLength="105.4" lengthAdjust="spacingAndGlyphs">forKey:</text>
<text x="1443.8" y="595.2" fill="#EC4A4A" stroke="#EC4A4A" stroke-width="0.6" textLength="136.2" lengthAdjust="spacingAndGlyphs">@"color"</text>
<text x="1322" y="609.0" fill="#2FB8EC" stroke="#2FB8EC" stroke-width="0.6" textLength="158.0" lengthAdjust="spacingAndGlyphs">[NSNumber</text>
<text x="1495" y="609.0" fill="#2FB8EC" stroke="#2FB8EC" stroke-width="0.6" textLength="155.0" lengthAdjust="spacingAndGlyphs">numberWith</text>
</g></svg>

<!-- BOTTOM -->
<div class="a" style="left:171px;top:606px;width:1417px;height:236px;border:2px solid #DAE3F3;border-left:none"></div>
<div class="a" style="left:1px;top:606px;width:171px;height:237px;background:#2E75B6;border:4px solid #4472C4;border-right-width:4px"></div>
<div class="t" style="left:1px;top:607px;width:171.0px;height:237.0px;color:#fff;font-weight:bold;font-size:31.5px;text-align:center;-webkit-text-stroke:0.8px #fff;"><span style="line-height:37px;transform:scaleX(1.62)">开发<br>管理</span></div>
<div class="a" style="left:350px;top:615px;width:499.0px;height:129.0px;border:2px solid #DAE3F3"></div>
<div class="a" style="left:1020px;top:616.5px;width:541.7px;height:127.0px;border:2px solid #DAE3F3"></div>
<div class="a" style="left:514px;top:750.5px;width:1046.0px;height:74.5px;border:2px solid #DAE3F3"></div>
<div class="a" style="left:206px;top:615px;width:146.4px;height:129.0px;background:#8FAADC;border:4px solid #4472C4"></div>
<div class="t" style="left:206px;top:617px;width:146.4px;height:129.0px;color:#fff;font-weight:bold;font-size:27px;text-align:center;-webkit-text-stroke:0.8px #fff;"><span style="transform:scaleX(1.585)">组件</span></div>
<div class="a" style="left:206px;top:749.2px;width:146.0px;height:77.8px;background:#8FAADC;border:4px solid #4472C4"></div>
<div class="t" style="left:206px;top:750.2px;width:146.0px;height:77.8px;color:#fff;font-weight:bold;font-size:27px;text-align:center;-webkit-text-stroke:0.8px #fff;"><span style="transform:scaleX(1.585)">模板</span></div>
<div class="a" style="left:369.6px;top:749.2px;width:147.4px;height:77.8px;background:#8FAADC;border:4px solid #4472C4"></div>
<div class="t" style="left:369.6px;top:750.2px;width:147.4px;height:77.8px;color:#fff;font-weight:bold;font-size:26px;text-align:center;-webkit-text-stroke:0.8px #fff;"><span style="line-height:30.7px;transform:scaleX(1.66)">预制<br>流程</span></div>
<div class="a" style="left:883.6px;top:616.2px;width:139.6px;height:130.1px;background:#8FAADC;border:4px solid #4472C4"></div>
<div class="t" style="left:883.6px;top:616.2px;width:139.6px;height:130.1px;color:#fff;font-weight:bold;font-size:26px;text-align:center;-webkit-text-stroke:0.8px #fff;"><span style="line-height:31px;transform:scaleX(1.69)">算法<br>算子</span></div>
<div class="btn" style="left:358.0px;top:628.7px;width:198.5px;height:43.6px"></div><div class="t" style="left:358px;top:628.7px;width:198.5px;height:43.6px;color:#595959;font-weight:bold;font-size:19.5px;text-align:center;-webkit-text-stroke:0.4px #595959;"><span style="transform:scaleX(1.62)">数据复制</span></div>
<div class="btn" style="left:615.0px;top:630.4px;width:197.6px;height:43.3px"></div><div class="t" style="left:615px;top:631.9px;width:197.6px;height:43.3px;color:#595959;font-weight:bold;font-size:19.5px;text-align:center;-webkit-text-stroke:0.4px #595959;"><span style="line-height:23.7px;transform:scaleX(1.65)">脚本自动<br>生成</span></div>
<div class="btn" style="left:359.2px;top:684.5px;width:141.3px;height:44.1px"></div><div class="t" style="left:359.2px;top:686.0px;width:141.3px;height:44.1px;color:#595959;font-weight:bold;font-size:19.5px;text-align:center;-webkit-text-stroke:0.4px #595959;"><span style="line-height:23.7px;transform:scaleX(1.65)">卸载/<br>加载</span></div>
<div class="btn" style="left:513.6px;top:684.5px;width:141.4px;height:44.1px"></div><div class="t" style="left:513.6px;top:686.0px;width:141.4px;height:44.1px;color:#595959;font-weight:bold;font-size:19.5px;text-align:center;-webkit-text-stroke:0.4px #595959;"><span style="line-height:23.7px;transform:scaleX(1.65)">预处<br>理</span></div>
<div class="btn" style="left:670.0px;top:684.5px;width:142.6px;height:44.1px"></div><div class="t" style="left:670px;top:686.0px;width:142.6px;height:44.1px;color:#595959;font-weight:bold;font-size:19.5px;text-align:center;-webkit-text-stroke:0.4px #595959;"><span style="line-height:23.7px;transform:scaleX(1.65)">自定<br>义</span></div>
<div class="btn" style="left:1061.6px;top:631.0px;width:199.6px;height:43.2px"></div><div class="t" style="left:1061.6px;top:631px;width:199.6px;height:43.2px;color:#595959;font-weight:bold;font-size:19.5px;text-align:center;-webkit-text-stroke:0.4px #595959;"><span style="transform:scaleX(1.62)">贴源算法</span></div>
<div class="btn" style="left:1333.0px;top:628.7px;width:197.0px;height:44.0px"></div><div class="t" style="left:1333px;top:630.2px;width:197.0px;height:44.0px;color:#595959;font-weight:bold;font-size:19.5px;text-align:center;-webkit-text-stroke:0.4px #595959;"><span style="line-height:23.7px;transform:scaleX(1.65)">数据标准<br>化算法</span></div>
<div class="btn" style="left:1061.6px;top:685.2px;width:143.1px;height:43.1px"></div><div class="t" style="left:1061.6px;top:686.7px;width:143.1px;height:43.1px;color:#595959;font-weight:bold;font-size:19.5px;text-align:center;-webkit-text-stroke:0.4px #595959;"><span style="line-height:23.7px;transform:scaleX(1.65)">关联<br>算子</span></div>
<div class="btn" style="left:1228.6px;top:685.2px;width:141.7px;height:43.1px"></div><div class="t" style="left:1228.6px;top:686.7px;width:141.7px;height:43.1px;color:#595959;font-weight:bold;font-size:19.5px;text-align:center;-webkit-text-stroke:0.4px #595959;"><span style="line-height:23.7px;transform:scaleX(1.65)">聚合<br>算子</span></div>
<div class="btn" style="left:1385.6px;top:685.2px;width:142.6px;height:43.1px"></div><div class="t" style="left:1385.6px;top:686.7px;width:142.6px;height:43.1px;color:#595959;font-weight:bold;font-size:19.5px;text-align:center;-webkit-text-stroke:0.4px #595959;"><span style="line-height:23.7px;transform:scaleX(1.65)">自定<br>义</span></div>
<div class="btn" style="left:531.0px;top:766.6px;width:199.0px;height:42.7px"></div><div class="t" style="left:531px;top:766.6px;width:199.0px;height:42.7px;color:#595959;font-weight:bold;font-size:19.5px;text-align:center;-webkit-text-stroke:0.4px #595959;"><span style="transform:scaleX(1.62)">数据接入</span></div>
<div class="btn" style="left:736.8px;top:766.6px;width:197.5px;height:42.7px"></div><div class="t" style="left:736.8px;top:766.6px;width:197.5px;height:42.7px;color:#595959;font-weight:bold;font-size:19.5px;text-align:center;-webkit-text-stroke:0.4px #595959;"><span style="transform:scaleX(1.62)">数据供应</span></div>
<div class="btn" style="left:944.3px;top:766.6px;width:196.2px;height:42.7px"></div><div class="t" style="left:944.3px;top:766.6px;width:196.2px;height:42.7px;color:#595959;font-weight:bold;font-size:19.5px;text-align:center;-webkit-text-stroke:0.4px #595959;"><span style="transform:scaleX(1.62)">数仓加工</span></div>
<div class="btn" style="left:1155.0px;top:766.6px;width:196.0px;height:42.7px"></div><div class="t" style="left:1155px;top:766.6px;width:196.0px;height:42.7px;color:#595959;font-weight:bold;font-size:19.5px;text-align:center;-webkit-text-stroke:0.4px #595959;"><span style="transform:scaleX(1.62)">应用加工</span></div>
<div class="btn" style="left:1363.0px;top:766.6px;width:197.3px;height:42.7px"></div><div class="t" style="left:1363px;top:766.6px;width:197.3px;height:42.7px;color:#595959;font-weight:bold;font-size:19.5px;text-align:center;-webkit-text-stroke:0.4px #595959;"><span style="transform:scaleX(1.62)">数据质量</span></div>
</body></html>
